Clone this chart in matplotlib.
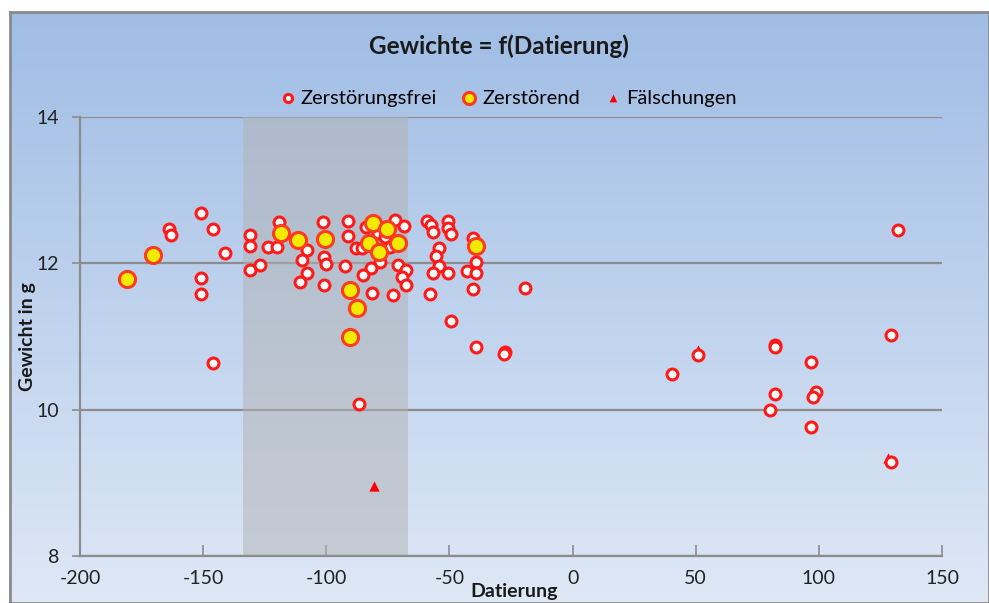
import numpy as np
import matplotlib
matplotlib.use("Agg")
import matplotlib.pyplot as plt

plt.rcParams['font.family'] = ['Lato', 'DejaVu Sans']
plt.rcParams['axes.unicode_minus'] = False

# Datierung / Gewicht, zerstoerungsfrei gemessen
frei_x = [-151, -164, -163, -146, -141, -151, -151, -146,
          -131, -131, -131, -127, -119, -123.5, -120, -108, -110, -108, -110.5,
          -101.5, -101, -100, -101, -91, -91, -92.5, -88, -85.5, -84, -72, -68.5,
          -74, -78, -71, -82, -85, -67.5, -69.3, -67.5, -81.5, -73, -86.7, -79, -76,
          -59, -57.6, -56.5, -50.7, -50.7, -49.3, -54.4, -55.5, -54.4, -56.5, -50.7,
          -40.5, -39.2, -42.9, -39.2, -40.5, -57.8, -19.5, -49.4, -39.2, -27.4, -28,
          132, 129.3, 82, 82, 51, 40.3, 97, 82, 98.8, 97.6, 80, 97, 129.3]
frei_y = [12.69, 12.47, 12.39, 12.47, 12.14, 11.80, 11.58, 10.64,
          12.39, 12.24, 11.91, 11.98, 12.57, 12.22, 12.22, 12.18, 12.05, 11.87, 11.74,
          12.57, 12.08, 11.99, 11.71, 12.58, 12.37, 11.96, 12.21, 12.21, 12.49, 12.59, 12.51,
          12.23, 12.02, 11.98, 11.94, 11.84, 11.91, 11.82, 11.71, 11.59, 11.57, 10.08, 12.42, 12.36,
          12.58, 12.53, 12.43, 12.58, 12.48, 12.40, 12.21, 12.10, 11.97, 11.87, 11.87,
          12.35, 12.02, 11.89, 11.87, 11.65, 11.58, 11.66, 11.21, 10.86, 10.79, 10.76,
          12.46, 11.02, 10.89, 10.86, 10.75, 10.49, 10.65, 10.21, 10.24, 10.17, 9.99, 9.76, 9.28]

# zerstoerend gemessen
zerst_x = [-181, -170.5, -118.5, -111.6, -100.5, -90.3, -87.6, -90.3,
           -80.9, -75.4, -82.6, -78.4, -70.7, -39.2]
zerst_y = [11.78, 12.12, 12.41, 12.32, 12.33, 11.64, 11.39, 11.00,
           12.55, 12.47, 12.28, 12.16, 12.28, 12.24]

# Faelschungen
fals_x = [-80.6, 51, 128]
fals_y = [8.95, 10.82, 9.34]

# grau hinterlegter Zeitraum
band_start, band_end = -134, -67

W, H = 989, 603
fig = plt.figure(figsize=(W / 100, H / 100), dpi=100)
fig.patch.set_facecolor('white')

# Hintergrund mit Farbverlauf
bg = fig.add_axes([10 / W, 0, (W - 10) / W, (H - 12) / H])
top = np.array([160, 189, 229]) / 255
bot = np.array([222, 232, 246]) / 255
t = np.linspace(0, 1, 256)[:, None]
grad = (top[None, :] * (1 - t) + bot[None, :] * t)[:, None, :]
bg.imshow(grad, aspect='auto', extent=[0, 1, 0, 1])
bg.set_xticks([])
bg.set_yticks([])
for sp in bg.spines.values():
    sp.set_color('#8a8a8a')
    sp.set_linewidth(2)
bg.set_zorder(0)

ax = fig.add_axes([80 / W, (H - 556) / H, 862 / W, 439 / H])
ax.set_zorder(1)
ax.patch.set_alpha(0)

ax.axvspan(band_start, band_end, ymin=0, ymax=1, color='#b2b2b2', alpha=0.5, lw=0, zorder=1)

ax.set_xlim(-200, 150)
ax.set_ylim(8, 14)
ax.set_xticks(np.arange(-200, 151, 50))
ax.set_yticks([8, 10, 12, 14])
ax.yaxis.grid(True, color='#8c8c8c', lw=1.6, zorder=2)
ax.set_axisbelow(True)
for s in ['top', 'right']:
    ax.spines[s].set_visible(False)
for s in ['left', 'bottom']:
    ax.spines[s].set_color('#8c8c8c')
    ax.spines[s].set_linewidth(1.6)
ax.tick_params(axis='y', direction='out', length=6, width=1.2, color='#8c8c8c',
               labelsize=14, labelcolor='#222222', pad=9)
ax.tick_params(axis='x', direction='in', length=8, width=1.2, color='#8c8c8c',
               labelsize=14, labelcolor='#222222', pad=10)

ax.scatter(fals_x, fals_y, marker='^', s=55, color='#ff0000', lw=0, zorder=3,
           label='Fälschungen')
ax.scatter(frei_x, frei_y, s=62, facecolor='white', edgecolor='#ff1a1a', lw=2.2, zorder=4,
           label='Zerstörungsfrei')
ax.scatter(zerst_x, zerst_y, s=135, facecolor='#f2ea00', edgecolor='#ff3b1f', lw=2.2, zorder=5,
           label='Zerstörend')

h, l = ax.get_legend_handles_labels()
order = [1, 2, 0]
leg = fig.legend([h[i] for i in order], [l[i] for i in order], loc='center',
                 bbox_to_anchor=(506 / W, 1 - 98 / H), ncol=3, frameon=False,
                 fontsize=14.5, handletextpad=0.05, columnspacing=1.0,
                 markerscale=0.75, handlelength=1.2)

fig.text(499 / W, 1 - 46 / H, 'Gewichte = f(Datierung)', ha='center', va='center',
         fontsize=17.5, fontweight='bold', color='#1a1a1a')
fig.text(514 / W, 1 - 591 / H, 'Datierung', ha='center', va='center',
         fontsize=14, fontweight='bold', color='#1a1a1a')
fig.text(28 / W, 1 - 337 / H, 'Gewicht in g', ha='center', va='center', rotation=90,
         fontsize=14, fontweight='bold', color='#1a1a1a')

fig.savefig('out.png', dpi=100)
